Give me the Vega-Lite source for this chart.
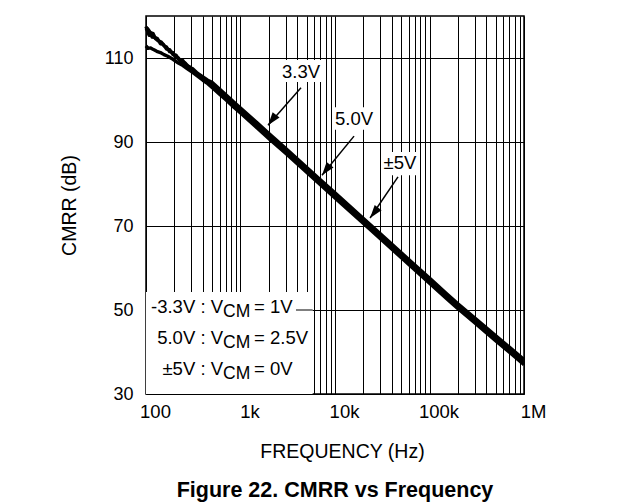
{
  "$schema": "https://vega.github.io/schema/vega-lite/v6.json",
  "width": 378,
  "height": 378,
  "autosize": {"type": "none"},
  "padding": {"left": 146, "top": 16, "right": 119, "bottom": 109},
  "background": "white",
  "config": {
    "font": "Liberation Sans",
    "view": {"stroke": "black", "strokeWidth": 1.5},
    "axis": {"labelColor": "black", "titleColor": "black", "titleFontWeight": "normal"}
  },
  "title": {"text": "Figure 22. CMRR vs Frequency", "orient": "bottom", "anchor": "middle", "fontSize": 21.5, "fontWeight": "bold", "color": "black", "offset": 19},
  "datasets": {
    "curves": [
      {"series": "3.3V", "f": 100, "db": 117.5}, {"series": "3.3V", "f": 104, "db": 116.3}, {"series": "3.3V", "f": 108, "db": 115.4}, {"series": "3.3V", "f": 113, "db": 116.0}, {"series": "3.3V", "f": 119, "db": 115.8}, {"series": "3.3V", "f": 126, "db": 114.6}, {"series": "3.3V", "f": 135, "db": 114.1}, {"series": "3.3V", "f": 145, "db": 113.8}, {"series": "3.3V", "f": 155, "db": 112.9}, {"series": "3.3V", "f": 165, "db": 112.6}, {"series": "3.3V", "f": 178, "db": 111.5}, {"series": "3.3V", "f": 193, "db": 111.3}, {"series": "3.3V", "f": 205, "db": 110.2}, {"series": "3.3V", "f": 220, "db": 110.0}, {"series": "3.3V", "f": 240, "db": 108.9}, {"series": "3.3V", "f": 260, "db": 108.8}, {"series": "3.3V", "f": 285, "db": 107.8}, {"series": "3.3V", "f": 314, "db": 107.4}, {"series": "3.3V", "f": 350, "db": 106.4}, {"series": "3.3V", "f": 400, "db": 105.5}, {"series": "3.3V", "f": 450, "db": 104.7}, {"series": "3.3V", "f": 500, "db": 104.2}, {"series": "3.3V", "f": 600, "db": 102.6}, {"series": "3.3V", "f": 700, "db": 101.25}, {"series": "3.3V", "f": 850, "db": 99.5}, {"series": "3.3V", "f": 1000, "db": 98.1}, {"series": "3.3V", "f": 1500, "db": 94.55}, {"series": "3.3V", "f": 2000, "db": 92.0}, {"series": "3.3V", "f": 3000, "db": 88.5}, {"series": "3.3V", "f": 5000, "db": 84.0}, {"series": "3.3V", "f": 7000, "db": 81.0}, {"series": "3.3V", "f": 10000, "db": 77.9}, {"series": "3.3V", "f": 20000, "db": 71.8}, {"series": "3.3V", "f": 30000, "db": 68.2}, {"series": "3.3V", "f": 50000, "db": 63.7}, {"series": "3.3V", "f": 70000, "db": 60.7}, {"series": "3.3V", "f": 100000, "db": 57.6}, {"series": "3.3V", "f": 150000, "db": 54.0}, {"series": "3.3V", "f": 200000, "db": 51.5}, {"series": "3.3V", "f": 300000, "db": 48.15}, {"series": "3.3V", "f": 500000, "db": 43.9}, {"series": "3.3V", "f": 700000, "db": 41.15}, {"series": "3.3V", "f": 1000000, "db": 38.2},
      {"series": "5.0V", "f": 100, "db": 116.5}, {"series": "5.0V", "f": 104, "db": 117.0}, {"series": "5.0V", "f": 109, "db": 116.3}, {"series": "5.0V", "f": 116, "db": 115.0}, {"series": "5.0V", "f": 123, "db": 114.9}, {"series": "5.0V", "f": 132, "db": 114.6}, {"series": "5.0V", "f": 142, "db": 113.4}, {"series": "5.0V", "f": 152, "db": 113.3}, {"series": "5.0V", "f": 165, "db": 112.1}, {"series": "5.0V", "f": 178, "db": 112.0}, {"series": "5.0V", "f": 193, "db": 110.8}, {"series": "5.0V", "f": 208, "db": 110.7}, {"series": "5.0V", "f": 225, "db": 109.5}, {"series": "5.0V", "f": 245, "db": 109.4}, {"series": "5.0V", "f": 268, "db": 108.2}, {"series": "5.0V", "f": 290, "db": 107.9}, {"series": "5.0V", "f": 314, "db": 107.0}, {"series": "5.0V", "f": 350, "db": 106.0}, {"series": "5.0V", "f": 400, "db": 105.2}, {"series": "5.0V", "f": 450, "db": 104.3}, {"series": "5.0V", "f": 500, "db": 103.6}, {"series": "5.0V", "f": 600, "db": 102.0}, {"series": "5.0V", "f": 700, "db": 100.65}, {"series": "5.0V", "f": 850, "db": 98.9}, {"series": "5.0V", "f": 1000, "db": 97.5}, {"series": "5.0V", "f": 1500, "db": 93.95}, {"series": "5.0V", "f": 2000, "db": 91.4}, {"series": "5.0V", "f": 3000, "db": 87.9}, {"series": "5.0V", "f": 5000, "db": 83.4}, {"series": "5.0V", "f": 7000, "db": 80.4}, {"series": "5.0V", "f": 10000, "db": 77.3}, {"series": "5.0V", "f": 20000, "db": 71.2}, {"series": "5.0V", "f": 30000, "db": 67.6}, {"series": "5.0V", "f": 50000, "db": 63.1}, {"series": "5.0V", "f": 70000, "db": 60.1}, {"series": "5.0V", "f": 100000, "db": 57.0}, {"series": "5.0V", "f": 150000, "db": 53.4}, {"series": "5.0V", "f": 200000, "db": 50.9}, {"series": "5.0V", "f": 300000, "db": 47.55}, {"series": "5.0V", "f": 500000, "db": 43.3}, {"series": "5.0V", "f": 700000, "db": 40.55}, {"series": "5.0V", "f": 1000000, "db": 37.6},
      {"series": "±5V", "f": 100, "db": 112.9}, {"series": "±5V", "f": 105, "db": 112.3}, {"series": "±5V", "f": 112, "db": 112.4}, {"series": "±5V", "f": 120, "db": 112.0}, {"series": "±5V", "f": 130, "db": 111.6}, {"series": "±5V", "f": 142, "db": 111.3}, {"series": "±5V", "f": 155, "db": 110.8}, {"series": "±5V", "f": 170, "db": 110.4}, {"series": "±5V", "f": 193, "db": 109.7}, {"series": "±5V", "f": 220, "db": 108.8}, {"series": "±5V", "f": 246, "db": 108.2}, {"series": "±5V", "f": 272, "db": 107.5}, {"series": "±5V", "f": 314, "db": 106.5}, {"series": "±5V", "f": 360, "db": 105.5}, {"series": "±5V", "f": 400, "db": 104.7}, {"series": "±5V", "f": 450, "db": 103.9}, {"series": "±5V", "f": 500, "db": 103.0}, {"series": "±5V", "f": 600, "db": 101.4}, {"series": "±5V", "f": 700, "db": 100.05}, {"series": "±5V", "f": 850, "db": 98.3}, {"series": "±5V", "f": 1000, "db": 96.9}, {"series": "±5V", "f": 1500, "db": 93.35}, {"series": "±5V", "f": 2000, "db": 90.8}, {"series": "±5V", "f": 3000, "db": 87.3}, {"series": "±5V", "f": 5000, "db": 82.8}, {"series": "±5V", "f": 7000, "db": 79.8}, {"series": "±5V", "f": 10000, "db": 76.7}, {"series": "±5V", "f": 20000, "db": 70.6}, {"series": "±5V", "f": 30000, "db": 67.0}, {"series": "±5V", "f": 50000, "db": 62.5}, {"series": "±5V", "f": 70000, "db": 59.5}, {"series": "±5V", "f": 100000, "db": 56.4}, {"series": "±5V", "f": 150000, "db": 52.8}, {"series": "±5V", "f": 200000, "db": 50.3}, {"series": "±5V", "f": 300000, "db": 46.95}, {"series": "±5V", "f": 500000, "db": 42.7}, {"series": "±5V", "f": 700000, "db": 39.95}, {"series": "±5V", "f": 1000000, "db": 37.0}
    ],
    "boxes": [
      {"name": "legend", "f": 100, "f2": 5800, "db": 30, "db2": 54.3},
      {"name": "3.3V", "f": 2494, "f2": 7282, "db": 104.3, "db2": 109.5},
      {"name": "5.0V", "f": 9524, "f2": 25878, "db": 92.9, "db2": 98.3},
      {"name": "±5V", "f": 31400, "f2": 79300, "db": 82.1, "db2": 87.6}
    ],
    "gridpart": [{"f": 3865, "f2": 5800, "db": 50}],
    "arrows": [
      {"name": "3.3V", "f": 4368, "db": 102.9, "tipf": 1954, "tipdb": 94.0},
      {"name": "5.0V", "f": 15900, "db": 91.4, "tipf": 7280, "tipdb": 82.1},
      {"name": "±5V", "f": 46400, "db": 81.7, "tipf": 23500, "tipdb": 71.9}
    ],
    "labels": [
      {"text": "3.3V", "f": 4368, "db": 106.7},
      {"text": "5.0V", "f": 15900, "db": 95.5},
      {"text": "±5V", "f": 48700, "db": 85.0}
    ],
    "legend": [
      {"lead": "-3.3V : V", "sub": "CM", "tail": "= 1V", "f": 653, "db": 50.7},
      {"lead": "5.0V : V", "sub": "CM", "tail": "= 2.5V", "f": 653, "db": 43.45},
      {"lead": "±5V : V", "sub": "CM", "tail": "= 0V", "f": 653, "db": 36.07}
    ]
  },
  "layer": [
    {
      "data": {"name": "boxes"},
      "mark": {"type": "rect", "fill": "white", "stroke": null},
      "encoding": {
        "x": {"field": "f", "type": "quantitative",
          "scale": {"type": "log", "domain": [100, 1000000], "nice": false},
          "axis": {
            "values": [100, 200, 300, 400, 500, 600, 700, 800, 900, 1000, 2000, 3000, 4000, 5000, 6000, 7000, 8000, 9000, 10000, 20000, 30000, 40000, 50000, 60000, 70000, 80000, 90000, 100000, 200000, 300000, 400000, 500000, 600000, 700000, 800000, 900000, 1000000],
            "labelExpr": "datum.value == 100 ? '100' : datum.value == 1000 ? '1k' : datum.value == 10000 ? '10k' : datum.value == 100000 ? '100k' : datum.value == 1000000 ? '1M' : ''",
            "grid": true, "gridColor": "black", "gridWidth": 1, "gridOpacity": 1,
            "ticks": false, "domain": false,
            "labelFlush": false, "labelOverlap": false, "labelOffset": 9,
            "labelFontSize": 18.5, "labelPadding": 8,
            "title": "FREQUENCY (Hz)", "titleFontSize": 19.5, "titlePadding": 22, "titleX": 196
          }
        },
        "x2": {"field": "f2"},
        "y": {"field": "db", "type": "quantitative",
          "scale": {"domain": [30, 120], "nice": false, "zero": false},
          "axis": {
            "values": [30, 50, 70, 90, 110],
            "grid": true, "gridColor": "black", "gridWidth": 1, "gridOpacity": 1,
            "ticks": false, "domain": false,
            "labelFontSize": 18, "labelPadding": 13,
            "title": "CMRR (dB)", "titleFontSize": 19.5, "titlePadding": 25
          }
        },
        "y2": {"field": "db2"}
      }
    },
    {
      "data": {"name": "gridpart"},
      "mark": {"type": "rule", "color": "black", "strokeWidth": 1},
      "encoding": {
        "x": {"field": "f", "type": "quantitative"},
        "x2": {"field": "f2"},
        "y": {"field": "db", "type": "quantitative"}
      }
    },
    {
      "data": {"name": "curves"},
      "mark": {"type": "line", "color": "black", "strokeWidth": 3.4, "strokeJoin": "round"},
      "encoding": {
        "x": {"field": "f", "type": "quantitative"},
        "y": {"field": "db", "type": "quantitative"},
        "detail": {"field": "series"}
      }
    },
    {
      "data": {"name": "arrows"},
      "mark": {"type": "rule", "color": "black", "strokeWidth": 1.5},
      "encoding": {
        "x": {"field": "f", "type": "quantitative"},
        "y": {"field": "db", "type": "quantitative"},
        "x2": {"field": "tipf"},
        "y2": {"field": "tipdb"}
      }
    },
    {
      "data": {"name": "arrows"},
      "mark": {"type": "point", "shape": "M0,0L-0.8,2.4L0.8,2.4Z", "filled": true, "color": "black", "opacity": 1, "size": 120, "angle": 218},
      "encoding": {
        "x": {"field": "tipf", "type": "quantitative"},
        "y": {"field": "tipdb", "type": "quantitative"}
      }
    },
    {
      "data": {"name": "labels"},
      "mark": {"type": "text", "fontSize": 18.5, "color": "black", "align": "center", "baseline": "middle"},
      "encoding": {
        "x": {"field": "f", "type": "quantitative"},
        "y": {"field": "db", "type": "quantitative"},
        "text": {"field": "text"}
      }
    },
    {
      "data": {"name": "legend"},
      "mark": {"type": "text", "fontSize": 18.5, "color": "black", "align": "right", "baseline": "middle"},
      "encoding": {
        "x": {"field": "f", "type": "quantitative"},
        "y": {"field": "db", "type": "quantitative"},
        "text": {"field": "lead"}
      }
    },
    {
      "data": {"name": "legend"},
      "mark": {"type": "text", "fontSize": 17.5, "color": "black", "align": "left", "baseline": "middle", "dy": 5},
      "encoding": {
        "x": {"field": "f", "type": "quantitative"},
        "y": {"field": "db", "type": "quantitative"},
        "text": {"field": "sub"}
      }
    },
    {
      "data": {"name": "legend"},
      "mark": {"type": "text", "fontSize": 18.5, "color": "black", "align": "left", "baseline": "middle", "dx": 31},
      "encoding": {
        "x": {"field": "f", "type": "quantitative"},
        "y": {"field": "db", "type": "quantitative"},
        "text": {"field": "tail"}
      }
    }
  ]
}
